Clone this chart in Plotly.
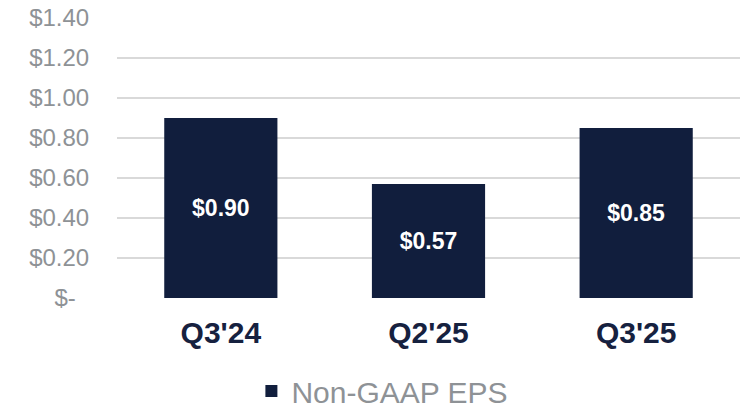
import plotly.graph_objects as go

categories = ["Q3'24", "Q2'25", "Q3'25"]
eps_values = [0.90, 0.57, 0.85]
series_name = "Non-GAAP EPS"
tick_values = [0, 0.2, 0.4, 0.6, 0.8, 1.0, 1.2, 1.4]
tick_labels = ["$-\u00a0\u00a0", "$0.20", "$0.40", "$0.60", "$0.80", "$1.00", "$1.20", "$1.40"]

FONT = "Liberation Sans, Arial, sans-serif"
BAR = "#111e3d"

fig = go.Figure()
fig.add_trace(go.Bar(
    x=categories,
    y=eps_values,
    name=series_name,
    marker=dict(color=BAR, line=dict(width=0)),
    texttemplate="$%{y:.2f}",
    textposition="inside",
    insidetextanchor="middle",
    textfont=dict(family=FONT, size=23, color="white", weight="bold"),
    constraintext="none",
    showlegend=True,
))

fig.update_layout(
    width=746, height=409,
    margin=dict(l=117, r=6, t=18, b=111, autoexpand=False),
    paper_bgcolor="white",
    plot_bgcolor="white",
    bargap=0.455,
    font=dict(family=FONT),
    xaxis=dict(
        showgrid=False, zeroline=False, showline=False, automargin=False,
        tickfont=dict(family=FONT, size=30, color="#16213f", weight="bold"),
        ticks="outside", ticklen=8, tickcolor="rgba(0,0,0,0)",
    ),
    yaxis=dict(
        range=[0, 1.4], automargin=False,
        tickvals=tick_values, ticktext=tick_labels,
        showgrid=True, gridcolor="#d9d9d9", gridwidth=1.5,
        zeroline=False, showline=False,
        tickfont=dict(family=FONT, size=24, color="#8e9296"),
        ticks="outside", ticklen=22, tickcolor="rgba(0,0,0,0)",
    ),
    legend=dict(
        orientation="h", x=0.426, xanchor="center", y=-0.332, yanchor="middle",
        font=dict(family=FONT, size=30, color="#8e9296"),
        itemwidth=30, borderwidth=0,
    ),
)

fig.write_html("out.html", post_script="document.body.style.margin='0';",
               config={"displayModeBar": False})
